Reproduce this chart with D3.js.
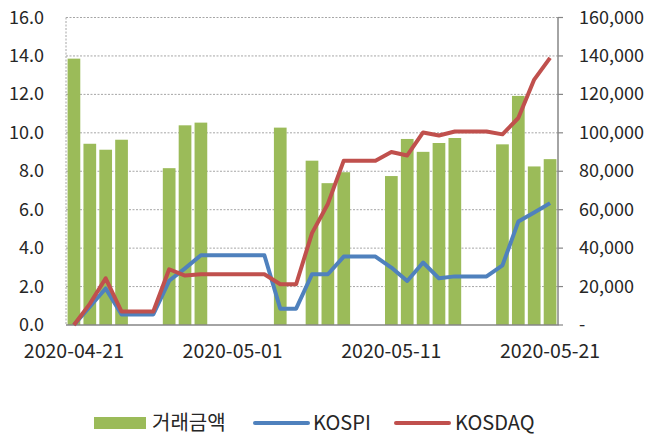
<!DOCTYPE html>
<html>
<head>
<meta charset="utf-8">
<script src="https://cdn.jsdelivr.net/npm/d3@7"></script>
<style>
  body { margin: 0; background: #fff; }
  text { font-family: "Noto Sans CJK KR", "Noto Sans", sans-serif; fill: #262626; }
</style>
</head>
<body>
<svg id="chart" width="657" height="435"></svg>
<script>
// daily dates, 2020-04-21 .. 2020-05-21
var dates = ["2020-04-21","2020-04-22","2020-04-23","2020-04-24","2020-04-25","2020-04-26","2020-04-27","2020-04-28","2020-04-29","2020-04-30",
             "2020-05-01","2020-05-02","2020-05-03","2020-05-04","2020-05-05","2020-05-06","2020-05-07","2020-05-08","2020-05-09","2020-05-10",
             "2020-05-11","2020-05-12","2020-05-13","2020-05-14","2020-05-15","2020-05-16","2020-05-17","2020-05-18","2020-05-19","2020-05-20","2020-05-21"];
// 거래금액 (null = market closed)
var volume = [138600, 94300, 91200, 96400, null, null, 81600, 103900, 105300, null,
              null, null, null, 102700, null, 85500, 73800, 79500, null, null,
              77500, 96800, 90100, 94700, 97300, null, null, 94000, 119200, 82500, 86300];
var kospi = [0, 0.95, 1.9, 0.55, 0.55, 0.55, 2.3, 2.95, 3.63, 3.63,
             3.63, 3.63, 3.63, 0.85, 0.85, 2.64, 2.64, 3.56, 3.56, 3.56,
             2.99, 2.29, 3.25, 2.43, 2.53, 2.53, 2.53, 3.1, 5.38, 5.85, 6.34];
var kosdaq = [0, 1.1, 2.43, 0.7, 0.7, 0.7, 2.9, 2.57, 2.64, 2.64,
              2.64, 2.64, 2.64, 2.12, 2.12, 4.78, 6.3, 8.55, 8.55, 8.55,
              9.0, 8.82, 10.02, 9.86, 10.07, 10.07, 10.07, 9.92, 10.77, 12.77, 13.9];
var leftTicks = [0, 2, 4, 6, 8, 10, 12, 14, 16];
var rightTicks = [0, 20000, 40000, 60000, 80000, 100000, 120000, 140000, 160000];
var xLabels = ["2020-04-21", "2020-05-01", "2020-05-11", "2020-05-21"];

var svg = d3.select("#chart");
var L = 66, R = 558, T = 17.5, B = 325;

var x = d3.scaleBand().domain(dates).range([L, R]).paddingInner(0.2).paddingOuter(0.1);
var yL = d3.scaleLinear().domain([0, 16]).range([B, T]);
var yR = d3.scaleLinear().domain([0, 160000]).range([B, T]);
var cx = function (d) { return x(d) + x.bandwidth() / 2; };

// grid
svg.append("g").selectAll("line").data(leftTicks.slice(1)).join("line")
  .attr("x1", L).attr("x2", R)
  .attr("y1", function (d) { return yL(d); }).attr("y2", function (d) { return yL(d); })
  .attr("stroke", "#a6a6a6").attr("stroke-width", 1).attr("stroke-dasharray", "2,1.5");
svg.append("line").attr("x1", L).attr("x2", L).attr("y1", T).attr("y2", B)
  .attr("stroke", "#a6a6a6").attr("stroke-width", 1).attr("stroke-dasharray", "2,1.5");

// bars
svg.append("g").selectAll("rect").data(dates.filter(function (d, i) { return volume[i] != null; })).join("rect")
  .attr("x", function (d) { return x(d); })
  .attr("width", x.bandwidth())
  .attr("y", function (d) { return yR(volume[dates.indexOf(d)]); })
  .attr("height", function (d) { return B - yR(volume[dates.indexOf(d)]); })
  .attr("fill", "#9bbb59");

// axes lines
svg.append("line").attr("x1", L).attr("x2", R + 0.5).attr("y1", B).attr("y2", B)
  .attr("stroke", "#868686").attr("stroke-width", 1.5);
svg.append("line").attr("x1", R).attr("x2", R).attr("y1", T).attr("y2", B)
  .attr("stroke", "#868686").attr("stroke-width", 1.5);
svg.append("g").selectAll("line").data(rightTicks).join("line")
  .attr("x1", R).attr("x2", R + 5)
  .attr("y1", function (d) { return yR(d); }).attr("y2", function (d) { return yR(d); })
  .attr("stroke", "#868686").attr("stroke-width", 1.2);

// lines
var line = function (vals) {
  return d3.line().x(function (d) { return cx(d); }).y(function (d, i) { return yL(vals[i]); })(dates);
};
svg.append("path").attr("d", line(kospi)).attr("fill", "none")
  .attr("stroke", "#4f81bd").attr("stroke-width", 4).attr("stroke-linejoin", "round");
svg.append("path").attr("d", line(kosdaq)).attr("fill", "none")
  .attr("stroke", "#c0504d").attr("stroke-width", 4).attr("stroke-linejoin", "round");

// tick labels
svg.append("g").selectAll("text").data(leftTicks).join("text")
  .attr("x", 44).attr("y", function (d) { return yL(d); }).attr("dy", "0.34em")
  .attr("text-anchor", "end").style("font-size", "18px")
  .text(function (d) { return d.toFixed(1); });
svg.append("g").selectAll("text").data(rightTicks).join("text")
  .attr("x", 579).attr("y", function (d) { return yR(d); }).attr("dy", "0.34em")
  .style("font-size", "18px")
  .text(function (d) { return d === 0 ? "-" : d3.format(",")(d); });
svg.append("g").selectAll("text").data(xLabels).join("text")
  .attr("x", function (d) { return cx(d); }).attr("y", 358)
  .attr("text-anchor", "middle").style("font-size", "19.5px")
  .text(function (d) { return d; });

// legend
var lg = svg.append("g");
lg.append("rect").attr("x", 94).attr("y", 417).attr("width", 52).attr("height", 12).attr("fill", "#9bbb59");
lg.append("text").attr("x", 152).attr("y", 430).style("font-size", "20px").text("거래금액");
lg.append("line").attr("x1", 255).attr("x2", 308).attr("y1", 423).attr("y2", 423)
  .attr("stroke", "#4f81bd").attr("stroke-width", 4).attr("stroke-linecap", "round");
lg.append("text").attr("x", 313).attr("y", 430).style("font-size", "20px").text("KOSPI");
lg.append("line").attr("x1", 396).attr("x2", 449).attr("y1", 423).attr("y2", 423)
  .attr("stroke", "#c0504d").attr("stroke-width", 4).attr("stroke-linecap", "round");
lg.append("text").attr("x", 455).attr("y", 430).style("font-size", "20px").text("KOSDAQ");
</script>
</body>
</html>
